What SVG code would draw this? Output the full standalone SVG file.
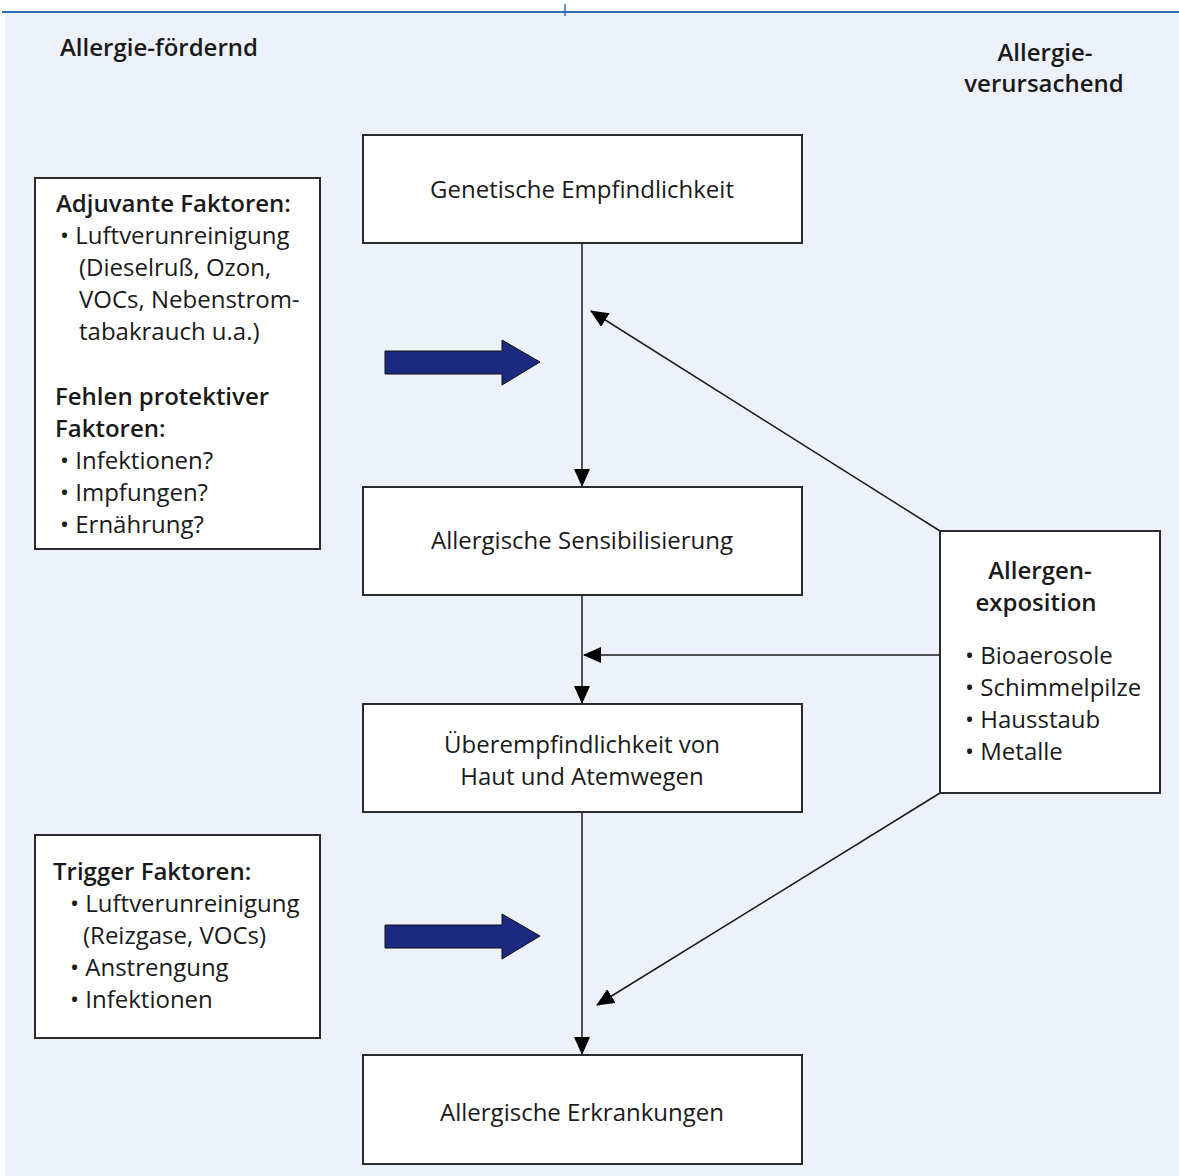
<svg xmlns="http://www.w3.org/2000/svg" width="1179" height="1176" viewBox="0 0 1179 1176">
<style>
text{font-family:"Open Sans","Noto Sans",sans-serif;font-size:24px;fill:#1a1a1a}
.b{font-weight:600}
.c{text-anchor:middle}
.box{fill:#ffffff;stroke:#2b2b2b;stroke-width:2}
.ln{stroke:#1a1a1a;stroke-width:1.5;fill:none}
.big{fill:#1b2a80;stroke:#111;stroke-width:1}
</style>
<defs>
<marker id="ah2" markerWidth="18" markerHeight="16" refX="17" refY="8" orient="auto" markerUnits="userSpaceOnUse" viewBox="0 0 18 16">
<path d="M0,0 L18,8 L0,16 z" fill="#000"/>
</marker>
</defs>
<rect x="0" y="0" width="1179" height="1176" fill="#ffffff"/>
<rect x="5" y="12" width="1174" height="1164" fill="#edf1f9"/>
<line x1="2" y1="12" x2="1179" y2="12" stroke="#2f6eb5" stroke-width="2"/>
<line x1="565" y1="4" x2="565" y2="16" stroke="#2f6eb5" stroke-width="1.5"/>
<g id="header-left"><text x="60" y="56" class="b">Allergie-fördernd</text></g>
<g id="header-right"><text x="1045" y="61" class="b c">Allergie-</text><text x="1044" y="92" class="b c">verursachend</text></g>
<g id="connectors">
<line class="ln" x1="582" y1="243" x2="582" y2="486" marker-end="url(#ah2)"/>
<line class="ln" x1="582" y1="595" x2="582" y2="703" marker-end="url(#ah2)"/>
<line class="ln" x1="582" y1="812" x2="582" y2="1054" marker-end="url(#ah2)"/>
<line class="ln" x1="940" y1="531" x2="591" y2="311" marker-end="url(#ah2)"/>
<line class="ln" x1="940" y1="655" x2="584" y2="655" marker-end="url(#ah2)"/>
<line class="ln" x1="940" y1="793" x2="597" y2="1005" marker-end="url(#ah2)"/>
<path class="big" d="M385,351 L502,351 L502,340 L540,362 L502,385 L502,374 L385,374 z"/>
<path class="big" d="M385,925 L502,925 L502,914 L540,936 L502,959 L502,948 L385,948 z"/>
</g>
<g id="genetische"><rect class="box" x="363" y="135" width="439" height="108"/><text x="582" y="198" class="c">Genetische Empfindlichkeit</text></g>
<g id="sensibilisierung"><rect class="box" x="363" y="487" width="439" height="108"/><text x="582" y="549" class="c">Allergische Sensibilisierung</text></g>
<g id="ueberempfindlichkeit"><rect class="box" x="363" y="704" width="439" height="108"/><text x="582" y="753" class="c">Überempfindlichkeit von</text><text x="582" y="785" class="c">Haut und Atemwegen</text></g>
<g id="erkrankungen"><rect class="box" x="363" y="1055" width="439" height="109"/><text x="582" y="1121" class="c">Allergische Erkrankungen</text></g>
<g id="adjuvant"><rect class="box" x="35" y="178" width="285" height="371"/>
<text x="56" y="212" class="b">Adjuvante Faktoren:</text>
<text x="60" y="244">• Luftverunreinigung</text>
<text x="79" y="276">(Dieselruß, Ozon,</text>
<text x="79" y="308">VOCs, Nebenstrom-</text>
<text x="79" y="340">tabakrauch u.a.)</text>
<text x="55" y="405" class="b">Fehlen protektiver</text>
<text x="55" y="437" class="b">Faktoren:</text>
<text x="60" y="469">• Infektionen?</text>
<text x="60" y="501">• Impfungen?</text>
<text x="60" y="533">• Ernährung?</text>
</g>
<g id="trigger"><rect class="box" x="35" y="835" width="285" height="203"/>
<text x="53" y="880" class="b">Trigger Faktoren:</text>
<text x="70" y="912">• Luftverunreinigung</text>
<text x="83" y="944">(Reizgase, VOCs)</text>
<text x="70" y="976">• Anstrengung</text>
<text x="70" y="1008">• Infektionen</text>
</g>
<g id="allergenexposition"><rect class="box" x="940" y="531" width="220" height="262"/>
<text x="1040" y="579" class="b c">Allergen-</text>
<text x="1036" y="611" class="b c">exposition</text>
<text x="965" y="664">• Bioaerosole</text>
<text x="965" y="696">• Schimmelpilze</text>
<text x="965" y="728">• Hausstaub</text>
<text x="965" y="760">• Metalle</text>
</g>
</svg>
